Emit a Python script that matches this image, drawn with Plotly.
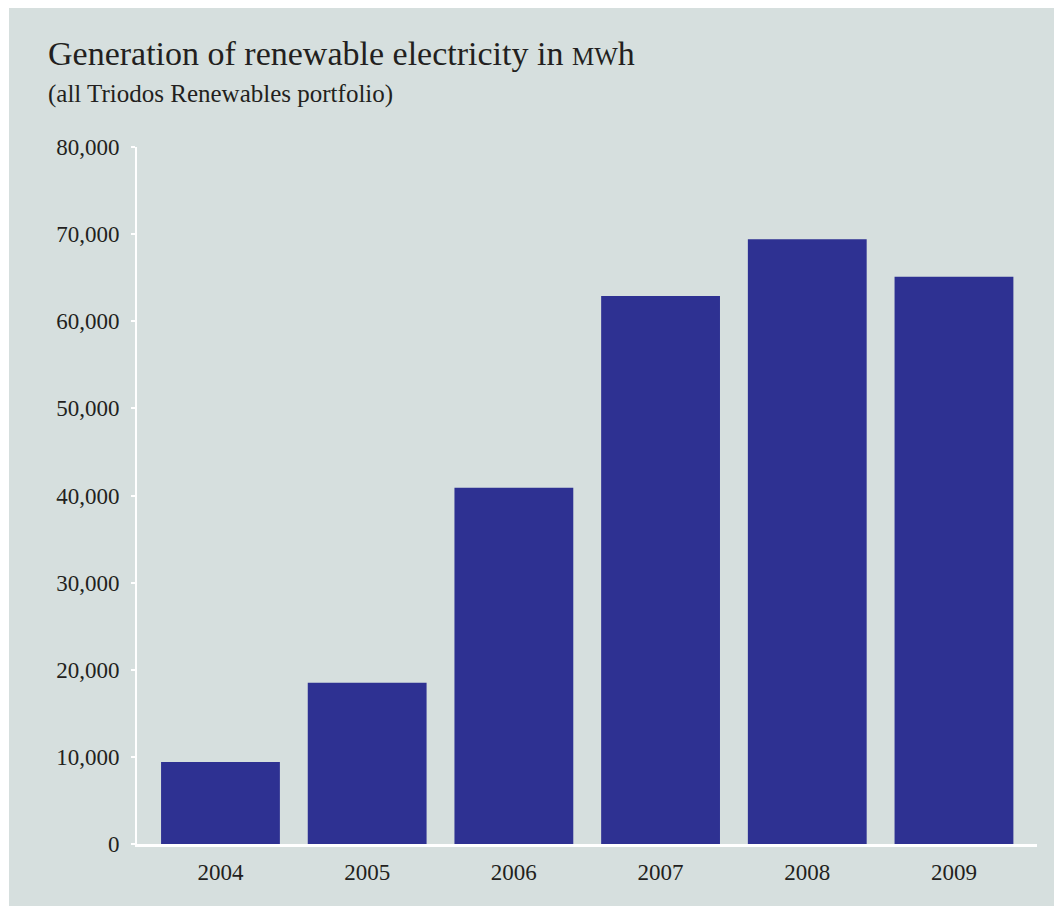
import plotly.graph_objects as go

years = ["2004", "2005", "2006", "2007", "2008", "2009"]
mwh = [9400, 18500, 40900, 62900, 69400, 65100]
y_ticks = [0, 10000, 20000, 30000, 40000, 50000, 60000, 70000, 80000]
y_tick_labels = ["0", "10,000", "20,000", "30,000", "40,000", "50,000", "60,000", "70,000", "80,000"]

title_text = "Generation of renewable electricity in <span style='font-size:25px'>MW</span>h"
subtitle_text = "(all Triodos Renewables portfolio)"

W, H = 1054, 906
ML, MR, MT, MB = 137, 17, 147, 62
PW, PH = W - ML - MR, H - MT - MB

def px_x(p):
    return (p - ML) / PW

def px_y(p):
    return (H - MB - p) / PH

BG = "#d6dfde"
BAR = "#2e3192"
TXT = "#231f20"
FONT = "Liberation Serif"

fig = go.Figure(go.Bar(
    x=list(range(len(years))), y=mwh, width=0.81,
    marker=dict(color=BAR, line=dict(width=0)),
))

fig.update_layout(
    width=W, height=H,
    margin=dict(l=ML, r=MR, t=MT, b=MB, pad=0),
    paper_bgcolor="white", plot_bgcolor="rgba(0,0,0,0)",
    showlegend=False,
    font=dict(family=FONT, color=TXT, size=23),
    shapes=[dict(type="rect", xref="paper", yref="paper", layer="below",
                 x0=px_x(9), x1=px_x(W), y0=px_y(H), y1=px_y(8),
                 fillcolor=BG, line=dict(width=0))],
    annotations=[
        dict(text=title_text, xref="paper", yref="paper", x=px_x(46), y=px_y(53),
             xanchor="left", yanchor="middle", showarrow=False,
             font=dict(family=FONT, size=34, color=TXT)),
        dict(text=subtitle_text, xref="paper", yref="paper", x=px_x(46), y=px_y(94),
             xanchor="left", yanchor="middle", showarrow=False,
             font=dict(family=FONT, size=25, color=TXT)),
    ],
)

fig.update_xaxes(
    range=[-0.569, 5.566], tickmode="array", tickvals=list(range(len(years))), ticktext=years,
    showline=True, linecolor="white", linewidth=3, ticks="", showgrid=False, zeroline=False,
    ticklabelstandoff=5, tickfont=dict(size=23, family=FONT, color=TXT),
)
fig.update_yaxes(
    range=[0, 80000], tickmode="array", tickvals=y_ticks, ticktext=y_tick_labels,
    showline=True, linecolor="white", linewidth=2, ticks="outside", ticklen=4,
    tickcolor="white", tickwidth=2, showgrid=False, zeroline=False,
    ticklabelstandoff=7, tickfont=dict(size=23, family=FONT, color=TXT),
)

fig.write_html("out.html")
